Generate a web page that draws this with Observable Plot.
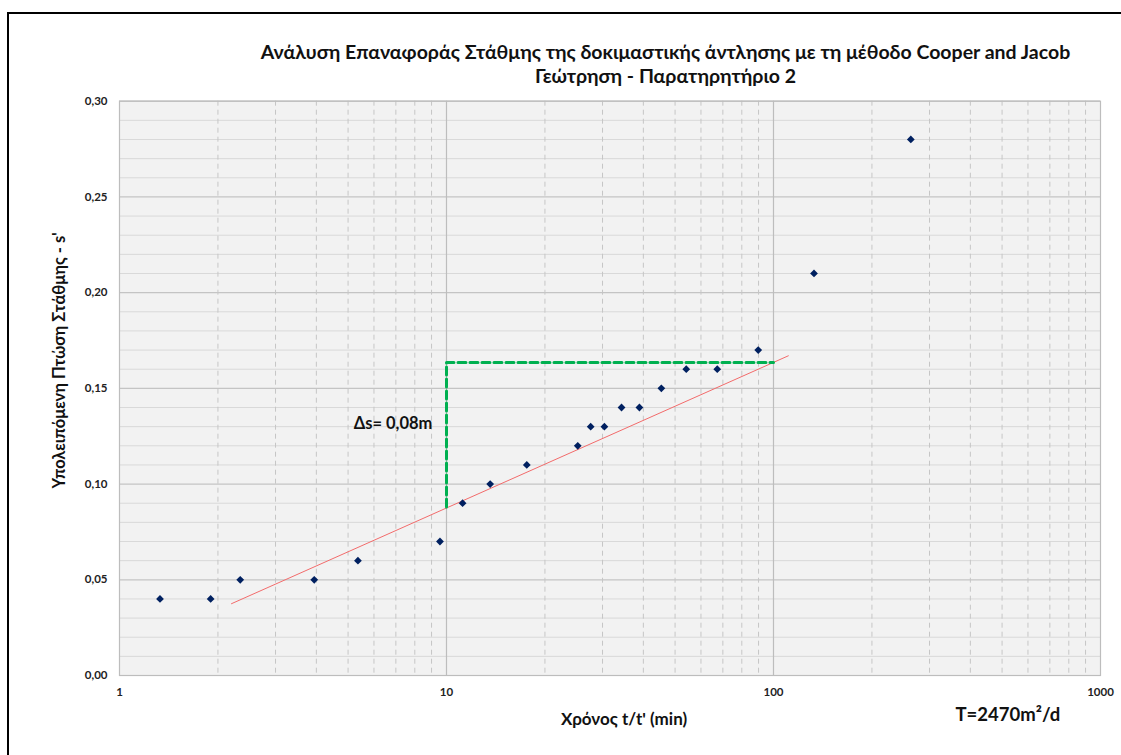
<!DOCTYPE html>
<html>
<head>
<meta charset="utf-8">
<script src="https://cdn.jsdelivr.net/npm/d3@7"></script>
<script src="https://cdn.jsdelivr.net/npm/@observablehq/plot@0.6"></script>
<style>
  body { margin: 0; background: #fff; font-family: Lato, "Open Sans", sans-serif; }
  #wrap { position: relative; width: 1121px; height: 755px; overflow: hidden; background: #fff; }
  #border { position: absolute; left: 7px; top: 12px; width: 1140px; height: 770px; border: 2px solid #000; box-sizing: border-box; pointer-events: none; }
  #title { height: 90px; box-sizing: border-box; padding: 40px 0 0 210px; text-align: center;
           font-weight: bold; font-size: 19.5px; line-height: 24px; color: #111; white-space: nowrap; }
  #chart svg { display: block; }
</style>
</head>
<body>
<div id="wrap">
  <div id="border"></div>
  <div id="title">Ανάλυση Επαναφοράς Στάθμης της δοκιμαστικής άντλησης με τη μέθοδο Cooper and Jacob<br>Γεώτρηση - Παρατηρητήριο 2</div>
  <div id="chart"></div>
</div>
<script>
// Recovery observations: ratio t/t' (min) and residual drawdown s' (m)
const timeRatio = [1.33, 1.90, 2.34, 3.94, 5.36, 9.55, 11.2, 13.6, 17.6, 25.2, 27.6, 30.4, 34.3, 38.9, 45.4, 54.1, 67.3, 89.8, 133, 263];
const residualDrawdown = [0.04, 0.04, 0.05, 0.05, 0.06, 0.07, 0.09, 0.10, 0.11, 0.12, 0.13, 0.13, 0.14, 0.14, 0.15, 0.16, 0.16, 0.17, 0.21, 0.28];

// Cooper–Jacob straight-line fit (end points)
const trendT = [2.2, 111];
const trendS = [0.0375, 0.167];

// Δs construction over one log cycle (10 → 100)
const guideT = [10, 10, 100];
const guideS = [0.088, 0.1635, 0.1635];

// Axis ticks
const xTicks = [1, 10, 100, 1000];
const xMajorGrid = [10, 100];
const xMinorGrid = [2, 3, 4, 5, 6, 7, 8, 9, 20, 30, 40, 50, 60, 70, 80, 90, 200, 300, 400, 500, 600, 700, 800, 900];
const yTicks = [0, 0.05, 0.10, 0.15, 0.20, 0.25, 0.30];
const yMinorGrid = [0.01, 0.02, 0.03, 0.04, 0.06, 0.07, 0.08, 0.09, 0.11, 0.12, 0.13, 0.14, 0.16, 0.17, 0.18, 0.19, 0.21, 0.22, 0.23, 0.24, 0.26, 0.27, 0.28, 0.29];

const points = timeRatio.map((t, i) => ({t, s: residualDrawdown[i]}));
const trend = trendT.map((t, i) => ({t, s: trendS[i]}));
const guide = guideT.map((t, i) => ({t, s: guideS[i]}));

const fmt = d => d.toFixed(2).replace(".", ",");

const chart = Plot.plot({
  width: 1121,
  height: 665,
  marginTop: 10.7,
  marginLeft: 119,
  marginRight: 21,
  marginBottom: 80,
  style: {fontFamily: "Lato, 'Open Sans', sans-serif", fontSize: "11.5px", fontWeight: "bold", color: "#222", background: "transparent"},
  x: {type: "log", domain: [1, 1000]},
  y: {domain: [0, 0.30]},
  marks: [
    Plot.frame({fill: "#f2f2f2"}),
    Plot.ruleY(yMinorGrid, {stroke: "#d9d9d9", strokeWidth: 1}),
    Plot.ruleY(yTicks, {stroke: "#c4c4c4", strokeWidth: 1.2}),
    Plot.ruleX(xMinorGrid, {stroke: "#c6c6c6", strokeWidth: 1, strokeDasharray: "5,4"}),
    Plot.ruleX(xMajorGrid, {stroke: "#bdbdbd", strokeWidth: 1.2}),
    Plot.frame({stroke: "#bdbdbd", strokeWidth: 1.2}),
    Plot.line(trend, {x: "t", y: "s", stroke: "#f26b6b", strokeWidth: 1}),
    Plot.line(guide, {x: "t", y: "s", stroke: "#00b050", strokeWidth: 3, strokeDasharray: "8,4"}),
    Plot.dot(points, {x: "t", y: "s", symbol: "diamond2", fill: "#002060", stroke: "none", r: 3.5}),
    Plot.text(["Δs= 0,08m"], {x: 5.2, y: 0.1315, text: d => d, textAnchor: "start", fontSize: 16.5, fontWeight: "bold", fill: "#111"}),
    Plot.axisX({ticks: xTicks, tickFormat: d => String(d), tickSize: 0, tickPadding: 12, label: null}),
    Plot.axisY({ticks: yTicks, tickFormat: fmt, tickSize: 0, tickPadding: 12, label: null}),
    Plot.text(["Χρόνος t/t' (min)"], {frameAnchor: "bottom", dx: 14, dy: 49, text: d => d, fontSize: 17, fontWeight: "bold", fill: "#111"}),
    Plot.text(["Υπολειπόμενη Πτώση Στάθμης - s'"], {frameAnchor: "left", textAnchor: "middle", dx: -60, dy: -28, rotate: -90, text: d => d, fontSize: 16.5, fontWeight: "bold", fill: "#111"}),
    Plot.text(["T=2470m²/d"], {frameAnchor: "bottom-right", textAnchor: "start", dx: -145, dy: 45, text: d => d, fontSize: 18.5, fontWeight: "bold", fill: "#111"})
  ]
});
document.getElementById("chart").append(chart);
</script>
</body>
</html>
